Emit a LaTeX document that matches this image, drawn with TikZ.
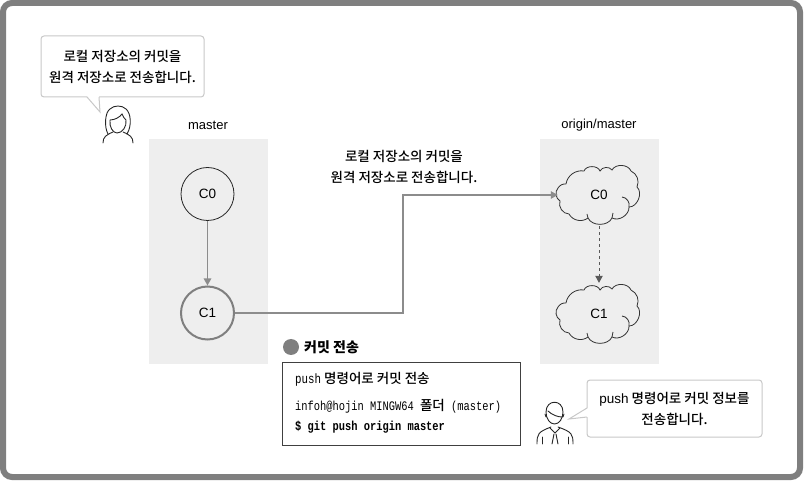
\documentclass[tikz,border=0pt]{standalone}
\usepackage{fontspec}
\setmainfont{Liberation Sans}
\newfontfamily\kr{Noto Sans CJK KR Medium}
\newfontfamily\krcode[FakeStretch=0.8]{Liberation Mono}
\usetikzlibrary{arrows.meta}

\definecolor{framegray}{HTML}{7F7F7F}
\definecolor{panelgray}{HTML}{EEEEEE}
\definecolor{bubblegray}{HTML}{C8C8C8}
\definecolor{linegray}{HTML}{8C8C8C}

\tikzset{
	panel/.style = {fill = panelgray, draw = none, minimum width = 119pt, minimum height = 225pt},
	bubble/.style = {draw = bubblegray, line width = 1pt, fill = white, rounded corners = 3pt, align = center, font = \fontsize{13.5}{21}\selectfont\kr},
	plain/.style = {align = center, font = \fontsize{13.5}{21}\selectfont\kr},
	commit/.style = {circle, draw = black!85, line width = 0.8pt, minimum size = 53pt, inner sep = 0pt, font = \fontsize{13.5}{15}\selectfont},
	head/.style = {commit, draw = framegray, line width = 2pt},
	remote/.style = {minimum width = 82pt, minimum height = 62pt, inner sep = 0pt, font = \fontsize{13.5}{15}\selectfont},
	flow/.style = {draw = linegray, line width = 1.2pt, -{Triangle[length = 7pt, width = 7.5pt]}},
	person/.style = {draw = black!85, line width = 0.9pt, line cap = round, fill = none},
	codeline/.style = {anchor = west, inner sep = 0pt, font = \fontsize{13}{15}\selectfont\krcode},
	puffs/.pic = {
		\draw [black!80, line width = 0.8pt] (-33,-11) to [bend left = 45] (-15,-24) to [bend left = 70] (1,-24) to [bend left = 60] (13,-25) to [bend left = 65] (32,-24) to [bend left = 45] (38,-8) to [bend left = 70] (30,12) to [bend left = 60] (13,23) to [bend left = 65] (-11,23) to [bend left = 50] (-30,19) to [bend left = 55] (-39,6) to [bend left = 50] (-41,-7) to [bend left = 30] (-33,-11);
		\draw [black!80, line width = 0.8pt] (23,2) to [bend left = 50] (30,12);
		\draw [black!80, line width = 0.8pt] (13,23) to [bend right = 20] (14,18);
		\draw [black!80, line width = 0.8pt] (-11,23) to [bend left = 25] (-12,19);
	}
}

\begin{document}
\begin{tikzpicture}[x = 1pt, y = -1pt]
	\useasboundingbox (0,0) rectangle (804,481);
	\draw [framegray, line width = 6pt, rounded corners = 9pt] (3,3) rectangle (800,477);

	\node [panel] (localpanel) at (208,251.5) {};
	\node [panel] (remotepanel) at (599.5,251.5) {};
	\node [font = \fontsize{13}{15}\selectfont] (localname) at (208,125) {master};
	\node [font = \fontsize{13}{15}\selectfont] (remotename) at (599,125) {origin/master};

	\node [commit] (c0) at (207.5,194) {C0};
	\node [head] (c1) at (207.5,313) {C1};
	\pic at (599,195) {puffs};
	\pic at (599,314) {puffs};
	\node [remote] (r0) at (599,195) {C0};
	\node [remote] (r1) at (599,314) {C1};
	\coordinate (bend1) at (403,313);
	\coordinate (bend2) at (403,195);

	\begin{scope}[flow]
		\draw (c0) -- (c1);
		\draw (c1) -- (bend1) -- (bend2) -- (r0);
		\draw [draw = black!65, dashed, line width = 0.8pt] (r0) -- (r1);
	\end{scope}

	\node [plain] (pushtext) at (404,166.5) {로컬 저장소의 커밋을\\원격 저장소로 전송합니다.};

	% speech bubbles and their tails
	\node [bubble, minimum width = 163pt, minimum height = 61pt] (leftbubble) at (122.5,66.5) {로컬 저장소의 커밋을\\원격 저장소로 전송합니다.};
	\fill [white] (87,96) -- (100,112) -- (99,96) -- cycle;
	\draw [bubblegray, line width = 1pt] (87,97) -- (100,112) -- (99,97);

	\node [bubble, minimum width = 175pt, minimum height = 57pt] (rightbubble) at (674.5,408.5) {{\rmfamily\normalfont push} 명령어로 커밋 정보를\\전송합니다.};
	\fill [white] (588,408) -- (569,419) -- (588,417) -- cycle;
	\draw [bubblegray, line width = 1pt] (587,408) -- (569,419) -- (587,417);

	% woman
	\begin{scope}[person]
		\draw (108,134) .. controls (104,127) and (105,112) .. (110,109) .. controls (114,105) and (122,105) .. (126,109) .. controls (131,113) and (132,126) .. (127,134);
		\draw (110,120) .. controls (115,120) and (120,117) .. (122,114) .. controls (123,117) and (125,119) .. (126,120) .. controls (127,127) and (122,133) .. (117,133) .. controls (113,133) and (109,127) .. (110,120);
		\draw (103,143) .. controls (103,137) and (106,135) .. (113,132);
		\draw (133,143) .. controls (133,137) and (130,135) .. (123,132);
	\end{scope}

	% man
	\begin{scope}[person]
		\draw (546,412) .. controls (546,399) and (563,399) .. (563,412) .. controls (563,419) and (559,424) .. (554.5,424) .. controls (550,424) and (546,419) .. (546,412);
		\draw (548,411) .. controls (552,415) and (558,417) .. (562,417);
		\draw (545,414) -- (546,417);
		\draw (564,414) -- (563,417);
		\draw (537,444) .. controls (537,434) and (538,432) .. (551,427);
		\draw (573,444) .. controls (573,434) and (572,432) .. (558,427);
		\draw (550,428) -- (555,433) -- (560,428);
		\draw (554,434) -- (552,444);
		\draw (556,434) -- (558,444);
		\draw (542,437) -- (542,444);
		\draw (568,437) -- (568,444);
	\end{scope}

	% command box
	\fill [framegray] (291,347) circle [radius = 8];
	\node [anchor = west, inner sep = 0pt, font = \fontsize{14}{16}\selectfont\kr\bfseries] (boxtitle) at (304,347) {커밋 전송};
	\node [draw = black!75, line width = 0.9pt, minimum width = 238pt, minimum height = 83pt] (codebox) at (401,403.5) {};
	\node [anchor = west, inner sep = 0pt, font = \fontsize{13.5}{15}\selectfont\kr] (line1) at (295,379) {{\krcode push} 명령어로 커밋 전송};
	\node [codeline] (line2) at (295,406) {infoh@hojin MINGW64 {\kr\fontsize{13.5}{15}\selectfont 폴더} (master)};
	\node [codeline, font = \fontsize{13}{15}\selectfont\krcode\bfseries] (line3) at (295,427) {\$ git push origin master};
\end{tikzpicture}
\end{document}
